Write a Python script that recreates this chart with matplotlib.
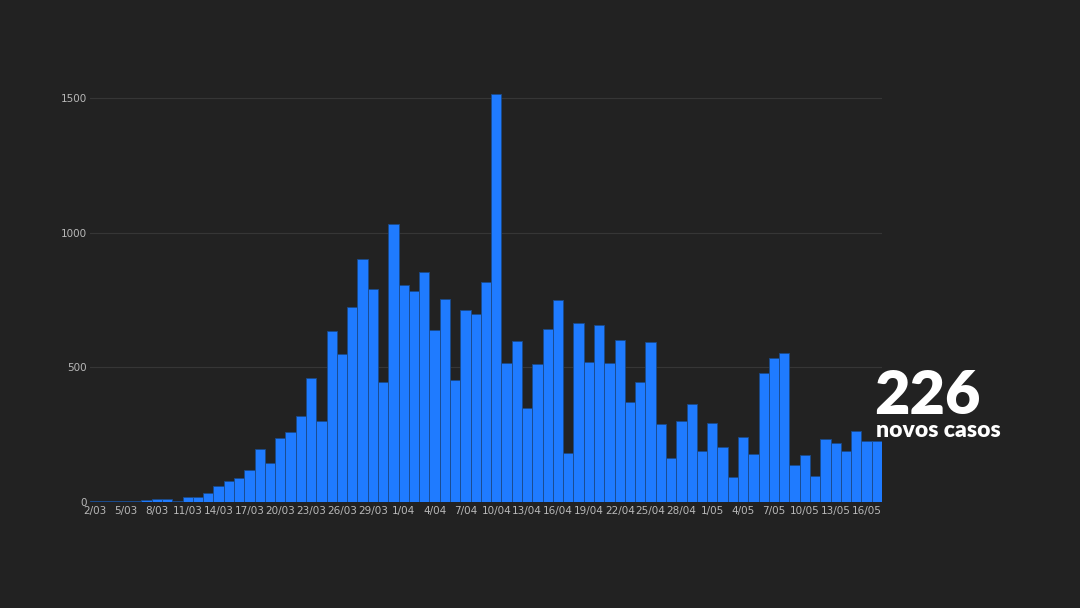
import numpy as np
import pandas as pd
import matplotlib
matplotlib.use("Agg")
import matplotlib.pyplot as plt

# novos casos diarios, 2/03 a 17/05
dates = pd.date_range("2020-03-02", "2020-05-17", freq="D")
new_cases = [2, 2, 2, 5, 5, 9, 10, 10, 2, 18,
             19, 35, 58, 77, 88, 118, 195, 143, 236, 260,
             321, 460, 302, 633, 549, 725, 901, 791, 447, 1033,
             807, 783, 852, 638, 753, 452, 712, 699, 815, 1515,
             515, 597, 349, 514, 643, 749, 181, 663, 521, 657,
             516, 602, 372, 444, 594, 290, 163, 299, 362, 188,
             295, 203, 93, 243, 179, 479, 533, 553, 138, 175,
             98, 234, 220, 188, 265, 227, 226]
labels = [f"{d.day}/{d.month:02d}" for d in dates]
y_ticks = [0, 500, 1000, 1500]

bg = "#222222"
fig = plt.figure(figsize=(10.8, 6.08), dpi=100, facecolor=bg)
ax = fig.add_axes([90 / 1080, 1 - 502 / 608, 792 / 1080, (502 - 71) / 608])
ax.set_facecolor(bg)

x = np.arange(len(new_cases))
ax.bar(x, new_cases, width=1.0, color="#1f7bff", edgecolor="#1a4a8a", linewidth=0.6, zorder=3)

ax.set_xlim(-0.5, len(new_cases) - 0.5)
ax.set_ylim(0, 1600)
ax.set_yticks(y_ticks)
ax.set_yticklabels([str(v) for v in y_ticks])
ax.set_xticks(x[::3])
ax.set_xticklabels(labels[::3])
ax.tick_params(axis="both", length=0, colors="#b8b8b8", labelsize=7.5)
ax.tick_params(axis="x", pad=3)
ax.tick_params(axis="y", pad=2)
ax.grid(axis="y", color="#363636", linewidth=0.8, zorder=0)
for s in ax.spines.values():
    s.set_visible(False)

fig.text(874 / 1080, 1 - 414 / 608, "226", color="white", fontsize=44,
         fontweight="heavy", family="Lato", ha="left", va="baseline")
fig.text(876 / 1080, 1 - 437 / 608, "novos casos", color="white", fontsize=16.5,
         fontweight="heavy", family="Lato", ha="left", va="baseline")

fig.savefig("out.png", dpi=100, facecolor=bg)
